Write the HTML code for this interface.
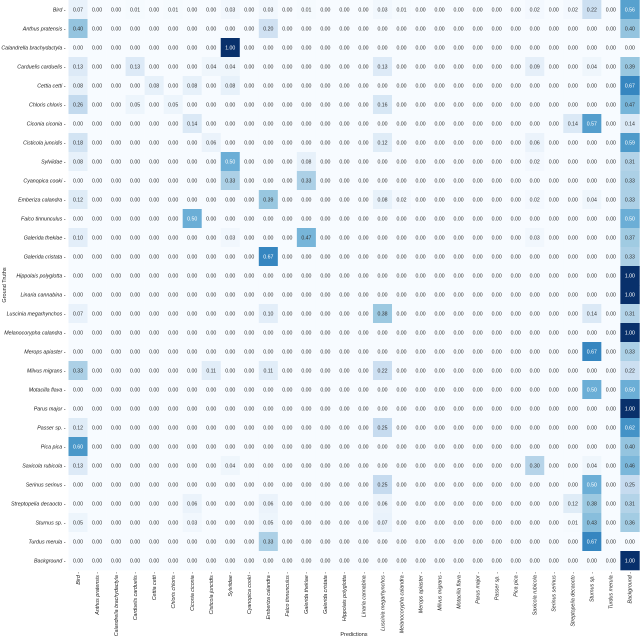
<!DOCTYPE html>
<html><head><meta charset="utf-8"><style>
html,body{margin:0;padding:0;background:#fff;width:640px;height:639px;overflow:hidden}
svg text{font-family:"Liberation Sans","DejaVu Sans",sans-serif}
</style></head><body>
<svg id="chart" width="640" height="639" xmlns="http://www.w3.org/2000/svg"></svg>
<script>
const labels = ["Bird","Anthus pratensis","Calandrella brachydactyla","Carduelis carduelis","Cettia cetti","Chloris chloris","Ciconia ciconia","Cisticola juncidis","Sylviidae","Cyanopica cooki","Emberiza calandra","Falco tinnunculus","Galerida theklae","Galerida cristata","Hippolais polyglotta","Linaria cannabina","Luscinia megarhynchos","Melanocorypha calandra","Merops apiaster","Milvus migrans","Motacilla flava","Parus major","Passer sp.","Pica pica","Saxicola rubicola","Serinus serinus","Streptopelia decaocto","Sturnus sp.","Turdus merula","Background"];
// non-zero cells per row: [col, value]
const rowEntries = [
 [[0,.07],[3,.01],[5,.01],[8,.03],[10,.03],[12,.01],[16,.03],[17,.01],[24,.02],[26,.02],[27,.22],[29,.56]],
 [[0,.40],[10,.20],[29,.40]],
 [[8,1.00]],
 [[0,.13],[3,.13],[7,.04],[8,.04],[16,.13],[24,.09],[27,.04],[29,.39]],
 [[0,.08],[4,.08],[6,.08],[8,.08],[29,.67]],
 [[0,.26],[3,.05],[5,.05],[16,.16],[29,.47]],
 [[6,.14],[26,.14],[27,.57],[29,.14]],
 [[0,.18],[7,.06],[16,.12],[24,.06],[29,.59]],
 [[0,.08],[8,.50],[12,.08],[24,.02],[29,.31]],
 [[8,.33],[12,.33],[29,.33]],
 [[0,.12],[10,.39],[16,.08],[17,.02],[24,.02],[27,.04],[29,.33]],
 [[6,.50],[29,.50]],
 [[0,.10],[8,.03],[12,.47],[24,.03],[29,.37]],
 [[10,.67],[29,.33]],
 [[29,1.00]],
 [[29,1.00]],
 [[0,.07],[10,.10],[16,.38],[27,.14],[29,.31]],
 [[29,1.00]],
 [[27,.67],[29,.33]],
 [[0,.33],[7,.11],[10,.11],[16,.22],[29,.22]],
 [[27,.50],[29,.50]],
 [[29,1.00]],
 [[0,.12],[16,.25],[29,.62]],
 [[0,.60],[29,.40]],
 [[0,.13],[8,.04],[24,.30],[27,.04],[29,.46]],
 [[16,.25],[27,.50],[29,.25]],
 [[6,.06],[10,.06],[16,.06],[26,.12],[27,.38],[29,.31]],
 [[0,.05],[6,.03],[10,.05],[16,.07],[26,.01],[27,.43],[29,.36]],
 [[10,.33],[27,.67],[29,0]],
 [[29,1.00]]
];
const NS="http://www.w3.org/2000/svg";
const svg=document.getElementById('chart');
const x0=68.5,y0=0,cw=19.03,ch=19.0,n=labels.length;
const xPos=c=>x0+c*cw, yPos=r=>y0+r*ch;
const stops=[[247,251,255],[222,235,247],[198,219,239],[158,202,225],[107,174,214],[66,146,198],[33,113,181],[8,81,156],[8,48,107]];
function blues(v){const t=Math.max(0,Math.min(1,v))*8;const i=Math.min(7,Math.floor(t));const f=t-i;const a=stops[i],b=stops[i+1];
 return `rgb(${a.map((x,k)=>Math.round(x+(b[k]-x)*f)).join(',')})`;}
function mk(tag,attrs){const e=document.createElementNS(NS,tag);for(const k in attrs)e.setAttribute(k,attrs[k]);svg.appendChild(e);return e;}
for(let r=0;r<n;r++){
 const vals=new Array(n).fill(0);
 rowEntries[r].forEach(([c,v])=>vals[c]=v);
 for(let c=0;c<n;c++){
  const v=vals[c];
  const rect=mk('rect',{x:xPos(c),y:yPos(r),width:cw+0.3,height:ch+0.3,fill:blues(v)});
  
  
  const t=mk('text',{x:xPos(c)+cw/2,y:yPos(r)+ch/2+1.8,'font-size':5.2,'text-anchor':'middle',fill:v>=0.5?'#ffffff':'#333333'});
  t.textContent=v.toFixed(2);
  
  
 }
 const yl=mk('text',{x:x0-3,y:yPos(r)+ch/2+1.8,'font-size':5.3,'font-style':'italic','text-anchor':'end',fill:'#222'});
 yl.textContent=labels[r]+' -';
 
 
 const cx=xPos(r)+cw/2;
 const xl=mk('text',{x:0,y:0,'font-size':5.3,'font-style':'italic','text-anchor':'end',fill:'#222',transform:`translate(${cx+1.8},${y0+n*ch+2}) rotate(-90)`});
 xl.textContent=labels[r]+' -';
 
 
}
const xt=mk('text',{x:x0+n*cw/2,y:636,'font-size':5.5,'text-anchor':'middle',fill:'#222'});
xt.textContent='Predictions';


const yt=mk('text',{x:0,y:0,'font-size':5.5,'text-anchor':'middle',fill:'#222',transform:`translate(6,${y0+n*ch/2}) rotate(-90)`});
yt.textContent='Ground Truths';


</script>
</body></html>
